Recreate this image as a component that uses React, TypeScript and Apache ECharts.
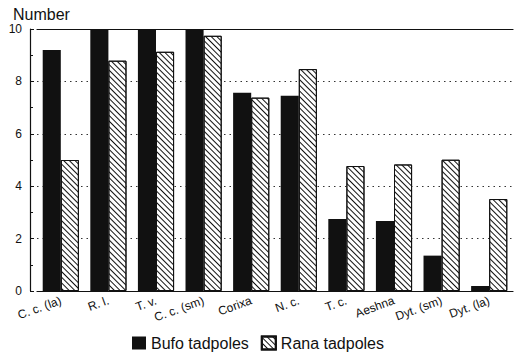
import React, { useEffect, useRef } from "react";
import * as echarts from "echarts";

const categories = ["C. c. (la)", "R. l.", "T. v.", "C. c. (sm)", "Corixa", "N. c.", "T. c.", "Aeshna", "Dyt. (sm)", "Dyt. (la)"];
const bufo = [9.2, 10, 10, 10, 7.57, 7.45, 2.75, 2.67, 1.35, 0.19];
const rana = [5.0, 8.79, 9.13, 9.74, 7.38, 8.47, 4.77, 4.83, 5.01, 3.51];
const yTicks = { min: 0, max: 10, interval: 2 };

export default function App() {
  const ref = useRef<HTMLDivElement>(null);
  useEffect(() => {
    const chart = echarts.init(ref.current!, null, { renderer: "svg" });
    const font = "Liberation Sans";
    chart.setOption({
      animation: false,
      aria: { enabled: true, decal: { show: true } },
      textStyle: { fontFamily: font, color: "#111" },
      title: {
        text: "Number",
        left: 8,
        top: 1,
        textStyle: { fontFamily: font, fontSize: 16, fontWeight: "normal", color: "#111" },
      },
      legend: {
        bottom: 1,
        left: "center",
        itemWidth: 14,
        itemHeight: 13,
        itemGap: 12,
        icon: "rect",
        textStyle: { fontFamily: font, fontSize: 16, color: "#111" },
        data: ["Bufo tadpoles", "Rana tadpoles"],
      },
      grid: { left: 37, right: 3, top: 29, bottom: 66 },
      xAxis: [
        {
          type: "category",
          data: categories,
          axisLine: { lineStyle: { color: "#111", width: 1.2 } },
          axisTick: { show: false },
          axisLabel: { rotate: 20, fontSize: 12, color: "#111", margin: 9, interval: 0 },
        },
        {
          type: "category",
          position: "top",
          data: categories,
          axisLine: { lineStyle: { color: "#111", width: 1.2 } },
          axisTick: { show: false },
          axisLabel: { show: false },
        },
      ],
      yAxis: {
        type: "value",
        min: yTicks.min,
        max: yTicks.max,
        interval: yTicks.interval,
        offset: 7,
        axisLine: { show: true, lineStyle: { color: "#111", width: 1.2 } },
        axisTick: { show: true, inside: true, length: 4, lineStyle: { color: "#111" } },
        minorTick: { show: true, splitNumber: 2, length: 3, lineStyle: { color: "#111" } },
        axisLabel: { fontSize: 12, color: "#111", margin: 8 },
        splitLine: { show: true, lineStyle: { color: "#333", type: [1.5, 4], width: 1 } },
      },
      series: [
        {
          name: "Bufo tadpoles",
          type: "bar",
          data: bufo,
          barGap: "0%",
          barCategoryGap: "24%",
          itemStyle: { color: "#111", decal: { symbol: "none" } },
        },
        {
          name: "Rana tadpoles",
          type: "bar",
          data: rana,
          itemStyle: {
            color: "#fff",
            borderColor: "#111",
            borderWidth: 1,
            decal: {
              symbol: "rect",
              symbolSize: 1,
              color: "#111",
              backgroundColor: "#fff",
              dashArrayX: [1, 0],
              dashArrayY: [1, 2.8],
              rotation: Math.PI / 4,
            },
          },
        },
      ],
    });
    return () => chart.dispose();
  }, []);
  return <div ref={ref} style={{ width: 516, height: 357, position: "absolute", left: 0, top: 0, background: "#fff" }} />;
}
